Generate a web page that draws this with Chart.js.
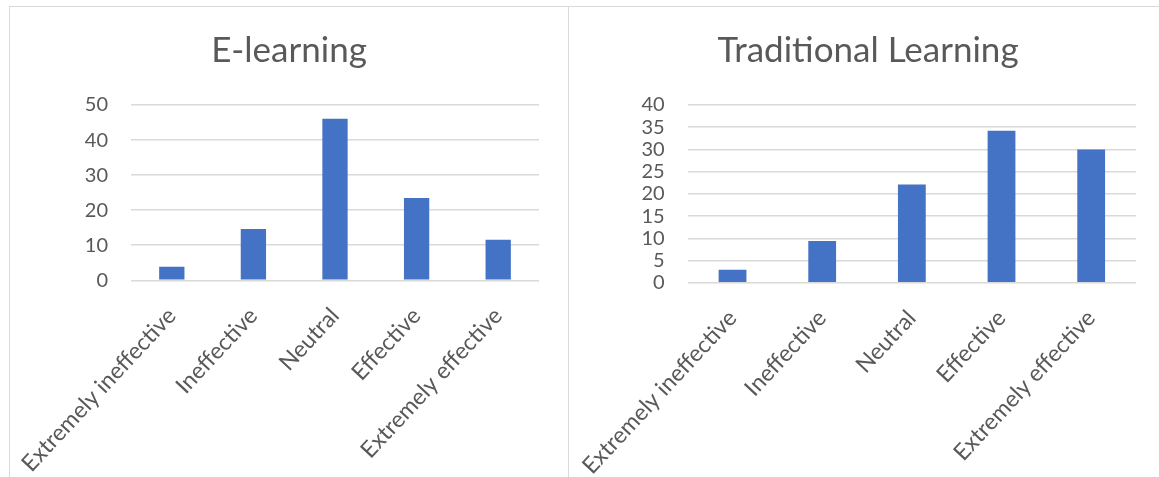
<!DOCTYPE html>
<html>
<head>
<meta charset="utf-8">
<script src="https://cdn.jsdelivr.net/npm/chart.js@4/dist/chart.umd.min.js"></script>
<style>
  html, body { margin: 0; padding: 0; background: #fff; width: 1159px; height: 477px; overflow: hidden; }
  .panel { position: absolute; top: 6px; height: 480px; border: 1px solid #d9d9d9; box-sizing: border-box; background: #fff; }
  #p1 { left: 9px; width: 560px; }
  #p2 { left: 568px; width: 600px; }
  canvas { position: absolute; left: 0; top: 0; }
</style>
</head>
<body>
<div class="panel" id="p1"><canvas id="c1" width="558" height="470"></canvas></div>
<div class="panel" id="p2"><canvas id="c2" width="598" height="470"></canvas></div>
<script>
const categories = ["Extremely ineffective", "Ineffective", "Neutral", "Effective", "Extremely effective"];
const eLearningValues = [3.9, 14.6, 46.1, 23.5, 11.6];
const traditionalValues = [2.9, 9.4, 22.1, 34.2, 30.0];
const eLearningTicks = { max: 50, step: 10 };
const traditionalTicks = { max: 40, step: 5 };
const titles = ["E-learning", "Traditional Learning"];

const FONT = "Lato, 'Open Sans', sans-serif";
const TEXT = "#595959";
const GRID = "#d9d9d9";
const BAR = "#4472c4";

function makeChart(id, title, values, tk, yWidth, xHeight, sidePad) {
  return new Chart(document.getElementById(id), {
    type: 'bar',
    data: {
      labels: categories,
      datasets: [{
        data: values,
        backgroundColor: BAR,
        borderWidth: 0,
        categoryPercentage: 0.31,
        barPercentage: 1.0
      }]
    },
    options: {
      responsive: false,
      animation: false,
      devicePixelRatio: 1,
      layout: { padding: { left: sidePad, right: sidePad, top: 0, bottom: 0 } },
      plugins: {
        legend: { display: false },
        tooltip: { enabled: false },
        title: {
          display: true,
          text: title,
          color: TEXT,
          font: { family: FONT, size: 35, weight: 'normal' },
          padding: { top: 23, bottom: 33 }
        }
      },
      scales: {
        x: {
          grid: { display: false, drawTicks: false },
          border: { display: false },
          ticks: {
            color: TEXT,
            font: { family: FONT, size: 23 },
            minRotation: 47,
            maxRotation: 47,
            autoSkip: false,
            padding: 22
          },
          afterFit(scale) {
            scale.height = xHeight;
            scale.paddingLeft = 0;
            scale.paddingRight = 0;
          }
        },
        y: {
          min: 0,
          max: tk.max,
          grid: { color: GRID, lineWidth: 1.5, drawTicks: false },
          border: { display: false },
          ticks: {
            stepSize: tk.step,
            autoSkip: false,
            color: TEXT,
            font: { family: FONT, size: 20 },
            padding: 23
          },
          afterFit(scale) {
            scale.width = yWidth;
            scale.paddingTop = 0;
            scale.paddingBottom = 0;
          }
        }
      }
    }
  });
}

makeChart('c1', titles[0], eLearningValues, eLearningTicks, 121 - 29, 196.7, 29);
makeChart('c2', titles[1], traditionalValues, traditionalTicks, 118.7 - 31, 194.3, 31);
</script>
</body>
</html>
